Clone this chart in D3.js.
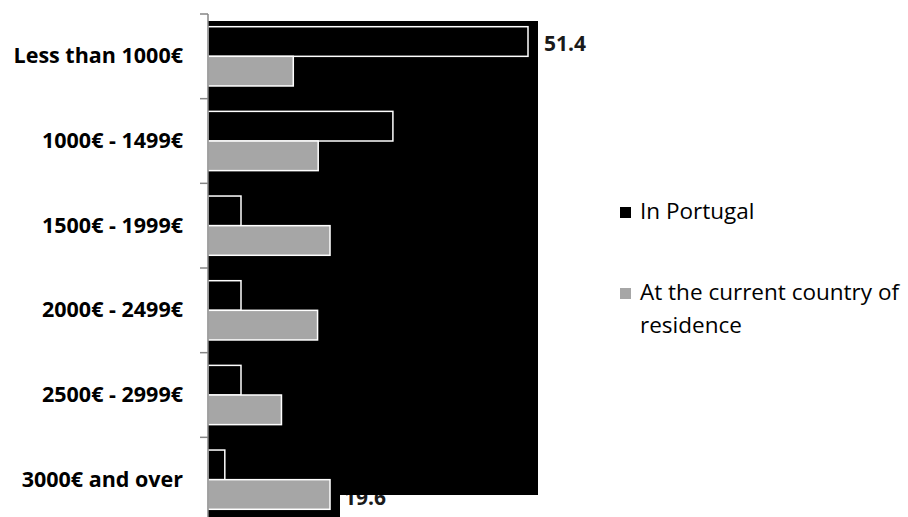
<!DOCTYPE html>
<html>
<head>
<meta charset="utf-8">
<script src="https://cdn.jsdelivr.net/npm/d3@7"></script>
<style>
body { margin: 0; background: #fff; }
text { font-family: "Open Sans", Lato, sans-serif; }
</style>
</head>
<body>
<script>
var categories = ["Less than 1000€", "1000€ - 1499€", "1500€ - 1999€", "2000€ - 2499€", "2500€ - 2999€", "3000€ and over"];
var seriesNames = ["In Portugal", "At the current country of residence"];
var inPortugal = [51.4, 29.7, 5.3, 5.3, 5.3, 2.7];
var currentCountry = [13.7, 17.7, 19.6, 17.6, 11.8, 19.6];
var colors = ["#000000", "#a6a6a6"];

var svg = d3.select("body").append("svg")
	.attr("width", 908)
	.attr("height", 517);

var y = d3.scaleBand().domain(categories).range([14, 522]).paddingInner(0.3).paddingOuter(0.15);
var y0 = d3.scaleBand().domain(categories).range([14, 522]);
var x = d3.scaleLinear().domain([0, 51.4]).range([208, 528]);
var sub = d3.scaleBand().domain([0, 1]).range([0, y.bandwidth()]);

// data label that sits partly under the plot background
svg.append("text")
	.attr("x", x(currentCountry[5]) + 14)
	.attr("y", 505)
	.attr("font-size", 21)
	.attr("font-weight", "bold")
	.attr("fill", "#1a1a1a")
	.text(currentCountry[5]);

// black plot background
svg.append("rect")
	.attr("x", 208).attr("y", 21)
	.attr("width", 330).attr("height", 474)
	.attr("fill", "#000");
svg.append("rect")
	.attr("x", 208).attr("y", 494)
	.attr("width", 132).attr("height", 23)
	.attr("fill", "#000");

var groups = svg.append("g").selectAll("g")
	.data(categories)
	.enter().append("g")
	.attr("transform", function(d){ return "translate(0," + y(d) + ")"; });

[inPortugal, currentCountry].forEach(function(vals, s){
	groups.append("rect")
		.attr("x", x(0))
		.attr("y", sub(s))
		.attr("width", function(d, i){ return x(vals[i]) - x(0); })
		.attr("height", sub.bandwidth())
		.attr("fill", colors[s])
		.attr("stroke", "#fff")
		.attr("stroke-width", 1.5);
});

// axis
var axis = svg.append("g").attr("transform", "translate(208,0)");
axis.append("line")
	.attr("x1", 0).attr("x2", 0)
	.attr("y1", 14).attr("y2", 517)
	.attr("stroke", "#868686").attr("stroke-width", 1.5);
axis.selectAll("line.tick")
	.data(categories)
	.enter().append("line")
	.attr("class", "tick")
	.attr("x1", -8).attr("x2", 0)
	.attr("y1", function(d){ return y0(d); })
	.attr("y2", function(d){ return y0(d); })
	.attr("stroke", "#868686").attr("stroke-width", 1.5);
axis.selectAll("text")
	.data(categories)
	.enter().append("text")
	.attr("x", -25)
	.attr("y", function(d){ return y0(d) + y0.bandwidth() / 2; })
	.attr("dy", "0.33em")
	.attr("text-anchor", "end")
	.attr("font-size", 21.5)
	.attr("font-weight", "bold")
	.attr("fill", "#000")
	.text(function(d){ return d; });

// value label for the top bar
svg.append("text")
	.attr("x", x(inPortugal[0]) + 16)
	.attr("y", 51)
	.attr("font-size", 21)
	.attr("font-weight", "bold")
	.attr("fill", "#1a1a1a")
	.text(inPortugal[0]);

// legend
var legend = svg.append("g");
var legendRows = [
	{y: 212, lines: [seriesNames[0]]},
	{y: 293, lines: ["At the current country of", "residence"]}
];
legendRows.forEach(function(r, i){
	legend.append("rect")
		.attr("x", 620).attr("y", r.y - 5)
		.attr("width", 11).attr("height", 11)
		.attr("fill", colors[i]);
	r.lines.forEach(function(t, j){
		legend.append("text")
			.attr("x", 640)
			.attr("y", r.y + j * 33)
			.attr("dy", "0.33em")
			.attr("font-size", 22.5)
			.attr("fill", "#000")
			.text(t);
	});
});
</script>
</body>
</html>
